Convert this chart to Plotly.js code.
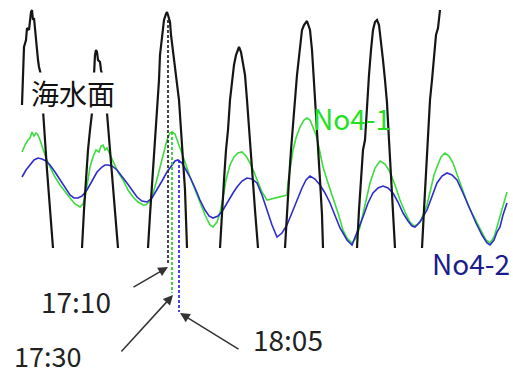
<!DOCTYPE html>
<html>
<head>
<meta charset="utf-8">
<script src="https://cdn.plot.ly/plotly-3.0.1.min.js"></script>
<style>html,body{margin:0;padding:0;background:#fff;}#chart{width:513px;height:374px;}</style>
</head>
<body>
<div id="chart"></div>
<script>
// time axis: 5-minute steps, step 0 = 03:10
// Sea level (海水面), arbitrary level units; troughs fall below the visible window
const seaT = [22,23,24,26,27,29,30,31,32,33,34,35,36,37,38,39,41,42,43,45,47,49,51,53,67,
  82,84,86,88,90,92,93,94,95,96,97,98,100,101,103,105,107,110,113,116,118,133,
  148,150,152,155,157,159,160,162,164,166,167,168,170,171,173,175,177,179,181,183,185,187,203,
  220,222,224,226,228,230,232,234,236,238,239,241,243,245,247,249,251,253,255,258,272,
  285,287,289,291,293,295,297,300,302,304,306,307,308,310,312,314,316,318,320,322,323,340,
  357,359,361,363,365,367,369,371,373,375,377,379,381,383,385,387,389,391,393,395,410,
  422,424,426,428,430,432,434,436,438,440];
const seaLevel = [143,188,201,208,220,218,230,236,238,228,230,218,203,198,188,181,173,153,135,108,78,53,23,0,-82,
  0,38,73,98,118,135,153,178,193,198,196,188,186,178,170,153,135,98,63,28,0,-82,
  0,33,63,108,135,168,193,213,228,234,236,233,226,213,198,183,168,148,118,88,58,0,-82,
  0,38,68,98,118,148,168,183,193,200,201,196,186,173,148,118,98,68,38,0,-82,
  0,38,68,98,128,148,173,203,218,223,226,227,224,218,198,168,138,108,68,33,0,-82,
  0,38,68,98,108,148,173,198,218,226,228,223,208,188,168,145,108,68,33,0,-82,
  0,38,78,118,148,168,188,213,220,238];

// No4-1
const no41T = [22,25,28,30,32,34,36,38,40,43,46,50,55,60,65,70,75,80,83,85,88,90,93,96,99,101,103,105,107,110,
  113,118,123,128,133,138,143,146,149,152,156,160,164,167,170,172,175,180,185,190,195,200,205,210,213,217,220,223,226,230,
  234,238,242,246,250,254,257,262,267,287,288,290,293,296,300,304,307,310,313,316,318,321,323,328,333,338,343,347,352,356,
  360,365,370,375,380,385,390,395,400,405,410,414,417,421,424,427,431,434,437,441,445,449,453,458,463,468,473,477,482,486,
  490,494,497,500,503,507];
const no41 = [96,103,108,110,116,112,115,113,108,98,90,81,71,63,56,50,44,41,44,51,68,81,91,98,96,102,103,98,100,93,
  86,76,68,58,51,46,43,43,46,51,65,81,98,108,115,116,114,101,86,71,58,45,33,23,21,26,35,50,68,83,
  91,95,96,92,85,76,68,56,48,53,65,80,98,110,121,128,130,128,121,113,105,91,81,65,51,35,18,10,5,10,
  21,43,65,80,87,84,76,63,48,36,26,22,23,28,35,43,60,73,81,91,95,92,85,71,55,43,33,25,15,8,
  5,11,21,31,43,56];

// No4-2
const no42T = [22,26,30,34,38,42,46,50,55,60,65,70,74,78,82,87,92,97,102,105,
  108,112,117,122,127,132,137,142,147,152,157,162,167,171,175,178,182,186,190,195,
  200,205,209,213,218,223,228,233,237,242,247,252,257,262,267,272,277,282,287,292,
  297,302,306,310,315,320,325,330,336,340,343,347,352,357,363,368,373,378,383,388,
  393,398,403,408,412,415,420,427,432,437,442,447,452,457,463,470,476,482,487,490,
  494,497,500,503,507];
const no42 = [71,78,83,88,90,89,87,83,76,68,60,53,50,50,52,58,67,76,81,83,
  83,82,78,72,65,58,51,47,46,50,58,67,76,82,87,88,85,78,71,60,
  48,38,32,30,32,38,47,55,61,67,70,69,65,53,38,23,11,15,23,36,
  48,60,68,72,69,63,55,45,30,20,15,8,3,15,31,45,55,60,62,60,
  55,46,35,27,22,21,26,38,52,65,72,75,73,68,55,38,25,13,5,3,
  8,16,21,33,45];

// peak-time markers
const markTimes = ["17:10", "17:30", "18:05"];
const markTop = [228, 116, 88];
const markBottom = [-17, -45, -64];
const markColors = ["#333333", "#33cc33", "#3333dd"];

function toStep(s){ const [h,m] = s.split(":").map(Number); return (h*60 + m - 190) / 5; }

const traces = [
  {x: no41T, y: no41, mode: "lines", line: {color: "#3ddc3d", width: 1.6}, hoverinfo: "skip"},
  {x: no42T, y: no42, mode: "lines", line: {color: "#2d2dcc", width: 1.6}, hoverinfo: "skip"}
];
markTimes.forEach((s, i) => {
  const t = toStep(s);
  traces.push({x: [t, t], y: [markTop[i], markBottom[i]], mode: "lines",
    line: {color: markColors[i], width: 1.8, dash: "3px,2px"}, hoverinfo: "skip"});
});
traces.push({x: seaT, y: seaLevel, yaxis: "y2", mode: "lines", line: {color: "#151515", width: 2.2}, hoverinfo: "skip"});

const font = "'Noto Sans CJK JP', 'Noto Sans', sans-serif";
const labelPos = [[76, -53], [47, -107], [288, -91]];
const arrowHead = [[168, -19], [173, -47], [180, -65]];
const arrowTail = [[132, -40], [120, -105], [240, -102]];

const annotations = [
  {x: 73, y: 155, text: "海水面", showarrow: false, font: {family: font, size: 28, color: "#111"}, bgcolor: "#ffffff", borderpad: 0},
  {x: 352, y: 130, text: "No4-1", showarrow: false, font: {family: font, size: 28, color: "#22e022"}},
  {x: 471, y: -15, text: "No4-2", showarrow: false, font: {family: font, size: 28, color: "#1c1c8c"}}
];
markTimes.forEach((s, i) => {
  annotations.push({x: labelPos[i][0], y: labelPos[i][1], text: s, showarrow: false,
    font: {family: font, size: i === 1 ? 27 : 28, color: "#222"}});
  annotations.push({x: arrowHead[i][0], y: arrowHead[i][1], ax: arrowTail[i][0], ay: arrowTail[i][1],
    axref: "x", ayref: "y", xref: "x", yref: "y", text: "", showarrow: true,
    arrowhead: 2, arrowsize: 1.3, arrowwidth: 1.5, arrowcolor: "#333"});
});

const layout = {
  width: 513, height: 374,
  margin: {l: 0, r: 0, t: 0, b: 0},
  paper_bgcolor: "#fff", plot_bgcolor: "rgba(0,0,0,0)",
  showlegend: false,
  xaxis: {range: [0, 513], visible: false, showgrid: false, zeroline: false},
  yaxis: {range: [-126, 248], domain: [0, 1], visible: false, showgrid: false, zeroline: false},
  yaxis2: {range: [0, 248], domain: [126/374, 1], anchor: "x", visible: false, showgrid: false, zeroline: false},
  annotations: annotations
};

Plotly.newPlot("chart", traces, layout, {staticPlot: true, displayModeBar: false});
</script>
</body>
</html>
